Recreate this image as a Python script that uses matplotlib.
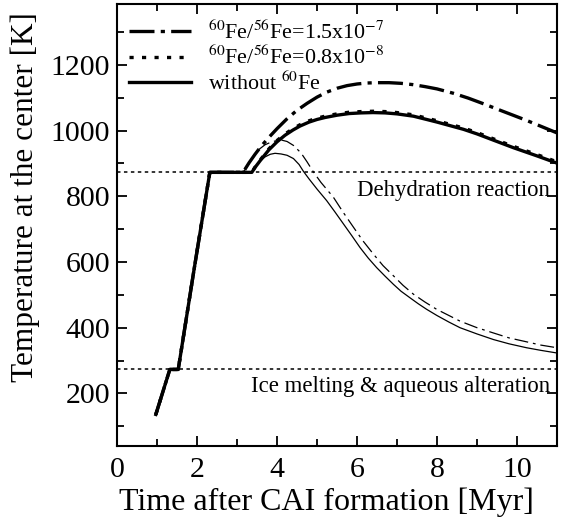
import matplotlib.pyplot as plt
from matplotlib.ticker import MultipleLocator

plt.rcParams['font.family'] = 'Liberation Serif'
plt.rcParams['mathtext.fontset'] = 'stix'
plt.rcParams['lines.scale_dashes'] = False

# thick curves (larger body)
t_hi = [0.97, 1.32, 1.53, 1.92, 2.32, 3.15, 3.3, 3.45, 3.6, 3.8, 4.0, 4.24, 4.49, 4.75, 5.0,
        5.24, 5.5, 5.75, 6.0, 6.25, 6.5, 6.8, 7.1, 7.4, 7.7, 8.0, 8.4, 8.78, 9.2, 9.6, 9.9,
        10.24, 10.6, 11.0]
T_hi = [136, 273, 273, 573, 873, 873, 902, 928, 952, 980, 1006, 1035, 1061, 1083, 1102,
        1117, 1129, 1137, 1142, 1145, 1146, 1146, 1144, 1140, 1134, 1127, 1114, 1099, 1080,
        1061, 1047, 1031, 1013, 993]

t_lo = [0.97, 1.32, 1.53, 1.92, 2.32, 3.37, 3.45, 3.6, 3.8, 4.0, 4.2, 4.4, 4.575, 4.8, 5.0,
        5.2, 5.5, 5.8, 6.1, 6.4, 6.7, 7.0, 7.41, 7.74, 8.0, 8.3, 8.66, 9.0, 9.41, 9.91, 10.5, 11.0]
T_lo = [136, 273, 273, 573, 873, 873, 889, 914, 945, 970, 990, 1006, 1018, 1030, 1038,
        1044, 1051, 1056, 1058, 1059, 1058, 1055, 1048, 1038, 1030, 1020, 1008, 994, 975, 952,
        927, 905]

t_no = [0.97, 1.32, 1.53, 1.92, 2.32, 3.37, 3.45, 3.6, 3.8, 4.0, 4.2, 4.4, 4.575, 4.8, 5.0,
        5.2, 5.5, 5.8, 6.1, 6.4, 6.7, 7.0, 7.41, 7.74, 8.0, 8.3, 8.66, 9.0, 9.41, 9.91, 10.5, 11.0]
T_no = [136, 273, 273, 573, 873, 873, 888, 912, 942, 966, 986, 1002, 1014, 1026, 1034,
        1040, 1047, 1052, 1054, 1055, 1054, 1051, 1044, 1034, 1026, 1016, 1004, 990, 971, 948,
        923, 901]

# thin curves (smaller body)
ts_hi = [3.15, 3.25, 3.35, 3.45, 3.55, 3.7, 3.85, 4.0, 4.12, 4.25, 4.41, 4.6, 4.75, 4.91,
         5.1, 5.41, 5.65, 5.91, 6.15, 6.41, 6.65, 6.91, 7.15, 7.41, 7.7, 7.99, 8.3, 8.575,
         9.0, 9.41, 9.8, 10.24, 10.6, 11.0]
Ts_hi = [873, 890, 910, 928, 943, 957, 965, 970, 971, 967, 955, 932, 905, 874,
         842, 797, 752, 706, 664, 624, 589, 558, 529, 502, 478, 456, 437, 420,
         400, 384, 369, 357, 347, 339]

ts_no = [3.37, 3.45, 3.55, 3.7, 3.83, 3.95, 4.1, 4.25, 4.41, 4.55, 4.66, 4.8, 5.0, 5.24,
         5.45, 5.66, 5.87, 6.075, 6.28, 6.49, 6.7, 6.91, 7.1, 7.325, 7.53, 7.74, 8.0, 8.3,
         8.575, 9.0, 9.41, 9.8, 10.24, 10.6, 11.0]
Ts_no = [873, 887, 905, 920, 928, 931, 929, 925, 915, 897, 876, 853, 822, 787,
         752, 716, 680, 644, 612, 583, 557, 532, 511, 491, 473, 456, 437, 417,
         400, 381, 364, 351, 339, 331, 323]

levels = [873, 273]
level_names = ['Dehydration reaction', 'Ice melting & aqueous alteration']
level_text_y = [818, 222]

fig = plt.figure(figsize=(5.61, 5.21), dpi=100)
ax = fig.add_axes([0.2086, 0.144, 0.7844, 0.848])

ax.plot(t_hi, T_hi, color='black', lw=2.4, ls=(0, (18, 4.5, 3, 4.5)),
        label=r'$^{60}$Fe/$^{56}$Fe=1.5x10$^{-7}$')
ax.plot(t_lo, T_lo, color='black', lw=2.4, ls=(0, (3, 6)),
        label=r'$^{60}$Fe/$^{56}$Fe=0.8x10$^{-8}$')
ax.plot(t_no, T_no, color='black', lw=2.4, label=r'without $^{60}$Fe')
ax.plot(ts_hi, Ts_hi, color='black', lw=0.9, ls=(0, (10, 3.5, 2, 3.5)))
ax.plot(ts_no, Ts_no, color='black', lw=0.9)

for lv, name, ty in zip(levels, level_names, level_text_y):
    ax.axhline(lv, color='black', lw=1.1, ls=(0, (2.5, 2.5)), zorder=0)
    ax.text(10.83, ty, name, ha='right', va='center', fontsize=16.4)

ax.set_xlim(0, 11)
ax.set_ylim(40, 1385)
ax.xaxis.set_major_locator(MultipleLocator(2))
ax.xaxis.set_minor_locator(MultipleLocator(1))
ax.yaxis.set_major_locator(MultipleLocator(200))
ax.yaxis.set_minor_locator(MultipleLocator(100))
ax.tick_params(which='both', direction='in', top=True, right=True, labelsize=21.5, width=1.3)
ax.tick_params(which='major', length=7)
ax.tick_params(which='minor', length=5)
ax.tick_params(axis='x', which='major', pad=8)
ax.tick_params(axis='y', which='major', pad=5)
for s in ax.spines.values():
    s.set_linewidth(1.5)

ax.set_xlabel('Time after CAI formation [Myr]', fontsize=23)
ax.set_ylabel('Temperature at the center [K]', fontsize=22.5)
ax.xaxis.set_label_coords(0.475, -0.095)
ax.yaxis.set_label_coords(-0.175, 0.563)

ax.legend(loc='upper left', frameon=False, fontsize=15.8, handlelength=2.8,
          handletextpad=0.8, labelspacing=0.1, borderaxespad=0.0, borderpad=0.35,
          bbox_to_anchor=(0.01, 0.98))

fig.savefig('out.png', dpi=100)
